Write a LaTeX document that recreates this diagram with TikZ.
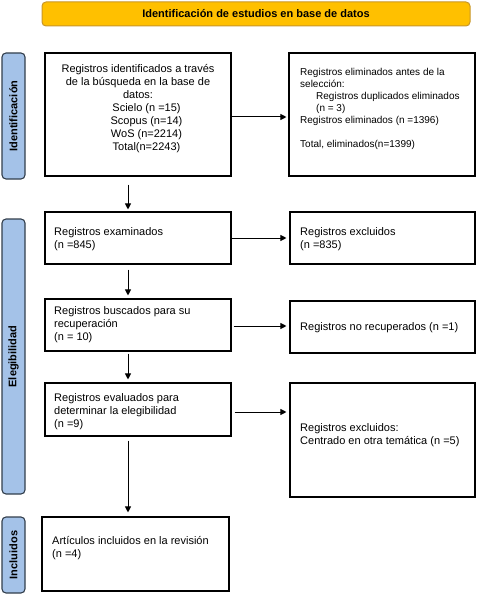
\documentclass[tikz,border=0pt]{standalone}
\usepackage{fontspec}
\setmainfont{Liberation Sans}
\usetikzlibrary{arrows.meta}
\definecolor{gold}{RGB}{255,192,0}
\definecolor{goldline}{RGB}{200,150,40}
\definecolor{sideblue}{RGB}{164,194,232}
\definecolor{sideline}{RGB}{50,62,76}
\begin{document}
\begin{tikzpicture}[x=1pt,y=-1pt,
  box/.style={draw=black,line width=1.1pt,rectangle,inner sep=0pt},
  txt/.style={inner sep=0pt,align=left,font=\fontsize{11}{13}\selectfont},
  txtc/.style={inner sep=0pt,align=center,font=\fontsize{11}{13}\selectfont},
  side/.style={draw=sideline,fill=sideblue,line width=1.1pt,rounded corners=4pt,rotate=90,inner sep=0pt,minimum height=23pt,font=\fontsize{11}{13}\selectfont\bfseries},
  arr/.style={line width=1pt,-{Triangle[length=6pt,width=6pt]}}]
\useasboundingbox (0,0) rectangle (480,596);
% title bar
\node[draw=goldline,fill=gold,line width=1pt,rounded corners=4pt,minimum width=428pt,minimum height=24pt,inner sep=0pt,font=\fontsize{11}{13}\selectfont\bfseries] (title) at (256,14) {Identificación de estudios en base de datos};
% side labels
\node[side,minimum width=126pt] (sid) at (13.5,116) {Identificación};
\node[side,minimum width=275pt] (sel) at (13.5,356.5) {Elegibilidad};
\node[side,minimum width=76pt] (sinc) at (13.5,555) {Incluidos};
% boxes
\node[box,minimum width=186pt,minimum height=123pt] (b1) at (138,114.5) {};
\node[box,minimum width=186pt,minimum height=123pt] (b2) at (382,114.5) {};
\node[box,minimum width=186pt,minimum height=52pt] (b3) at (138,238) {};
\node[box,minimum width=185pt,minimum height=52pt] (b4) at (382.5,238) {};
\node[box,minimum width=186pt,minimum height=52pt] (b5) at (138,325) {};
\node[box,minimum width=185pt,minimum height=52pt] (b6) at (382.5,327) {};
\node[box,minimum width=186pt,minimum height=53pt] (b7) at (138,409.5) {};
\node[box,minimum width=185pt,minimum height=114pt] (b8) at (382.5,440) {};
\node[box,minimum width=187pt,minimum height=74pt] (b9) at (135.5,554) {};
% texts
\node[txtc] (t1) at (138,108.5) {Registros identificados a través\\de la búsqueda en la base de\\datos:\\\hspace*{17pt}Scielo (n =15)\\\hspace*{17pt}Scopus (n=14)\\\hspace*{17pt}WoS (n=2214)\\\hspace*{17pt}Total(n=2243)};
\node[txt,anchor=west,font=\fontsize{10}{12}\selectfont] (t2) at (300,108.5) {Registros eliminados antes de la\\selección:\\\hspace*{16pt}Registros duplicados eliminados\\\hspace*{16pt}(n = 3)\\Registros eliminados (n =1396)\\[12pt]Total, eliminados(n=1399)};
\node[txt,anchor=west] (t3) at (54,239.5) {Registros examinados\\(n =845)};
\node[txt,anchor=west] (t4) at (300,239.5) {Registros excluidos\\(n =835)};
\node[txt,anchor=west] (t5) at (54,325) {Registros buscados para su\\recuperación\\(n = 10)};
\node[txt,anchor=west] (t6) at (300,328) {Registros no recuperados (n =1)};
\node[txt,anchor=west] (t7) at (54,412) {Registros evaluados para\\determinar la elegibilidad\\(n =9)};
\node[txt,anchor=west] (t8) at (300,435.5) {Registros excluidos:\\Centrado en otra temática (n =5)};
\node[txt,anchor=west] (t9) at (52,548.5) {Artículos incluidos en la revisión\\(n =4)};
% horizontal arrows
\coordinate (p1) at ([yshift=-2.5pt]b1.east);
\draw[arr,shorten >=2pt] (p1) -- (p1 -| b2.west);
\coordinate (p2) at (b3.east);
\draw[arr,shorten >=3pt] (p2) -- (p2 -| b4.west);
\coordinate (p3) at ([xshift=2pt,yshift=-1pt]b5.east);
\draw[arr,shorten >=3pt] (p3) -- (p3 -| b6.west);
\coordinate (p4) at ([xshift=3pt,yshift=-2.5pt]b7.east);
\draw[arr,shorten >=3pt] (p4) -- (p4 -| b8.west);
% vertical arrows
\draw[arr,shorten <=8pt,shorten >=2pt] ([xshift=-10pt]b1.south) -- ([xshift=-10pt]b3.north);
\draw[arr,shorten <=5pt,shorten >=3pt] ([xshift=-10pt]b3.south) -- ([xshift=-10pt]b5.north);
\draw[arr,shorten <=2pt,shorten >=3pt] ([xshift=-10pt]b5.south) -- ([xshift=-10pt]b7.north);
\draw[arr,shorten <=4pt,shorten >=4pt] ([xshift=-10pt]b7.south) -- ([xshift=-7.5pt]b9.north);
\end{tikzpicture}
\end{document}
